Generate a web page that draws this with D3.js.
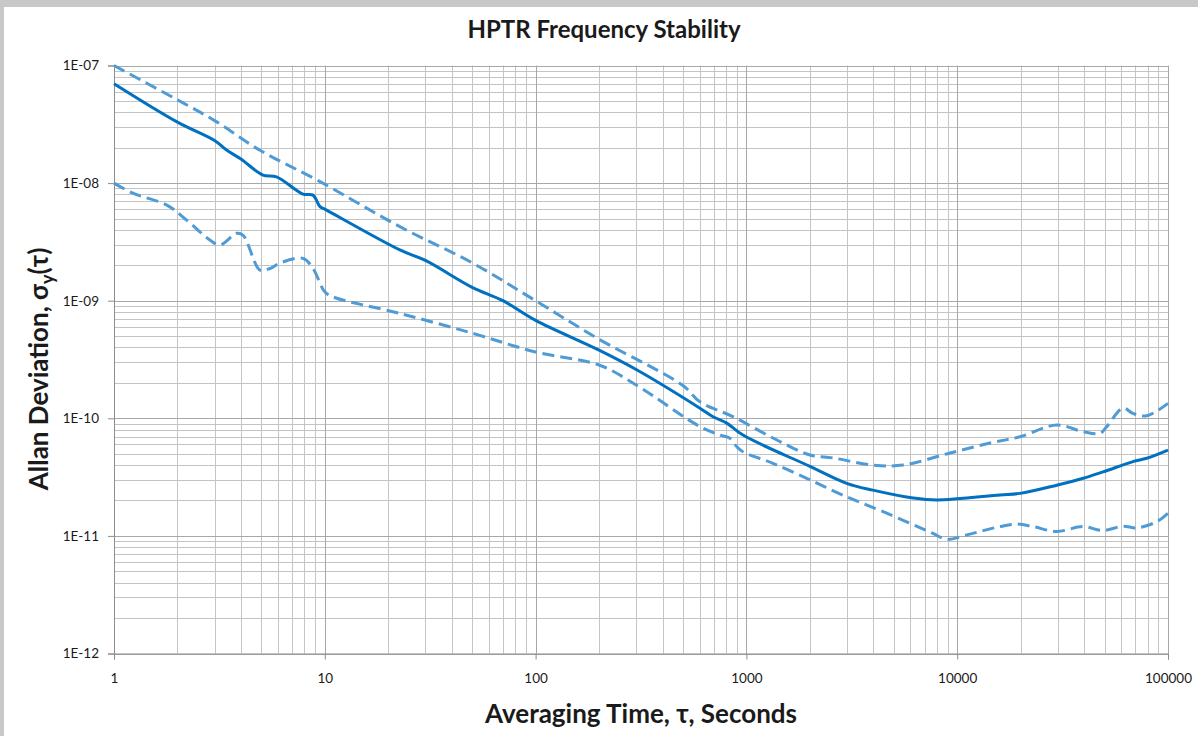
<!DOCTYPE html>
<html>
<head>
<meta charset="utf-8">
<script src="https://cdn.jsdelivr.net/npm/d3@7"></script>
<style>
	body { margin: 0; background: #fff; }
	svg text { font-family: Lato, "Open Sans", sans-serif; fill: #1a1a1a; }
</style>
</head>
<body>
<svg class="chart" width="1198" height="736"></svg>
<script>
// Data (tau in seconds, Allan deviation)
const tauMain = [1, 2, 3, 3.42, 4, 5.09, 5.9, 7.88, 8.79, 9.49, 10, 22.7, 30, 50, 70, 100, 200, 300, 602, 695, 807, 963, 2003, 2990, 3980, 6170, 8000, 15960, 19860, 29650, 39630, 49200, 68200, 79200, 100000]
const sigmaMain = [7.0e-8, 3.3e-8, 2.3e-8, 1.91e-8, 1.6e-8, 1.17e-8, 1.13e-8, 8.07e-9, 7.9e-9, 6.3e-9, 6.0e-9, 2.7e-9, 2.2e-9, 1.3e-9, 1.0e-9, 6.8e-10, 3.8e-10, 2.6e-10, 1.22e-10, 1.03e-10, 9.1e-11, 7.2e-11, 3.9e-11, 2.8e-11, 2.45e-11, 2.1e-11, 2.02e-11, 2.23e-11, 2.3e-11, 2.7e-11, 3.09e-11, 3.5e-11, 4.28e-11, 4.57e-11, 5.37e-11]

const tauUpper = [1, 2, 3, 4.93, 9.49, 22.7, 50, 100, 200, 500, 602, 867, 1336, 2003, 2576, 3980, 5530, 9250, 14300, 19860, 29650, 39500, 47550, 51200, 61200, 68200, 79200, 100000]
const sigmaUpper = [1.0e-7, 5.1e-8, 3.4e-8, 1.9e-8, 1.03e-8, 4.26e-9, 2.1e-9, 1.0e-9, 4.7e-10, 1.9e-10, 1.38e-10, 1.03e-10, 6.8e-11, 4.87e-11, 4.6e-11, 4.0e-11, 4.0e-11, 5.07e-11, 6.16e-11, 6.97e-11, 8.77e-11, 7.7e-11, 7.45e-11, 8.5e-11, 1.22e-10, 1.1e-10, 1.05e-10, 1.34e-10]

const tauLower = [1, 1.23, 1.78, 2.21, 2.85, 3.18, 3.82, 4.1, 4.93, 5.5, 6.13, 7.88, 8.79, 10, 10.9, 22.7, 50, 100, 200, 300, 602, 750, 835, 899, 963, 1336, 2003, 2990, 4630, 7680, 8920, 11100, 15960, 19150, 22900, 29650, 39500, 49200, 61200, 71000, 88400, 100000]
const sigmaLower = [1.0e-8, 8.2e-9, 6.5e-9, 4.85e-9, 3.28e-9, 2.98e-9, 3.74e-9, 3.6e-9, 1.82e-9, 1.88e-9, 2.09e-9, 2.29e-9, 1.88e-9, 1.19e-9, 1.08e-9, 7.8e-10, 5.3e-10, 3.66e-10, 2.84e-10, 1.92e-10, 8.5e-11, 7.2e-11, 6.76e-11, 5.75e-11, 5.2e-11, 4.14e-11, 2.99e-11, 2.15e-11, 1.56e-11, 1.05e-11, 9.35e-12, 1.02e-11, 1.2e-11, 1.26e-11, 1.2e-11, 1.09e-11, 1.2e-11, 1.11e-11, 1.21e-11, 1.17e-11, 1.32e-11, 1.56e-11]

const xTicks = [1, 10, 100, 1000, 10000, 100000]
const xTickLabels = ["1", "10", "100", "1000", "10000", "100000"]
const yTicks = [1e-12, 1e-11, 1e-10, 1e-9, 1e-8, 1e-7]
const yTickLabels = ["1E-12", "1E-11", "1E-10", "1E-09", "1E-08", "1E-07"]

const svg = d3.select("svg.chart")

// light grey frame at top and left edge
svg.append("rect").attr("x", 0).attr("y", 0).attr("width", 1198).attr("height", 7).attr("fill", "#c8c8c8")
svg.append("rect").attr("x", 0).attr("y", 0).attr("width", 4).attr("height", 736).attr("fill", "#c8c8c8")

const plotLeft = 114, plotRight = 1168, plotTop = 65.5, plotBottom = 653.5

const x = d3.scaleLog().domain([1, 1e5]).range([plotLeft, plotRight])
const y = d3.scaleLog().domain([1e-12, 1e-7]).range([plotBottom, plotTop])

// minor values: 2..9 inside every decade
const minorX = []
xTicks.slice(0, -1).forEach(d => { for (let k = 2; k <= 9; k++) minorX.push(d * k) })
const minorY = []
yTicks.slice(0, -1).forEach(d => { for (let k = 2; k <= 9; k++) minorY.push(d * k) })

const grid = svg.append("g")

grid.selectAll("line.minx").data(minorX).enter().append("line")
	.attr("x1", d => Math.round(x(d)) + 0.5).attr("x2", d => Math.round(x(d)) + 0.5)
	.attr("y1", plotTop).attr("y2", plotBottom)
	.attr("stroke", "#c4c4c4").attr("stroke-width", 1)

grid.selectAll("line.miny").data(minorY).enter().append("line")
	.attr("y1", d => Math.round(y(d)) + 0.5).attr("y2", d => Math.round(y(d)) + 0.5)
	.attr("x1", plotLeft).attr("x2", plotRight)
	.attr("stroke", "#c4c4c4").attr("stroke-width", 1)

grid.selectAll("line.majx").data(xTicks).enter().append("line")
	.attr("x1", d => Math.round(x(d)) + 0.5).attr("x2", d => Math.round(x(d)) + 0.5)
	.attr("y1", plotTop).attr("y2", plotBottom)
	.attr("stroke", "#a8a8a8").attr("stroke-width", 1)

grid.selectAll("line.majy").data(yTicks).enter().append("line")
	.attr("y1", d => Math.round(y(d)) + 0.5).attr("y2", d => Math.round(y(d)) + 0.5)
	.attr("x1", plotLeft).attr("x2", plotRight)
	.attr("stroke", "#a8a8a8").attr("stroke-width", 1)

// axes
const xAxis = d3.axisBottom(x).tickValues(xTicks).tickFormat((d, i) => xTickLabels[i]).tickSize(6).tickPadding(14)
const yAxis = d3.axisLeft(y).tickValues(yTicks).tickFormat((d, i) => yTickLabels[i]).tickSize(6).tickPadding(9)

const gx = svg.append("g").attr("transform", "translate(0," + plotBottom + ")").call(xAxis)
const gy = svg.append("g").attr("transform", "translate(" + plotLeft + ",0)").call(yAxis)

;[gx, gy].forEach(g => {
	g.select(".domain").attr("stroke", "#8c8c8c")
	g.selectAll(".tick line").attr("stroke", "#8c8c8c")
	g.selectAll(".tick text").style("font-family", "Lato, 'Open Sans', sans-serif").style("font-size", "13.5px").attr("fill", "#1a1a1a")
})

// series
const line = d3.line()
	.x(d => x(d[0]))
	.y(d => y(d[1]))
	.curve(d3.curveCatmullRom.alpha(0.5))

const plot = svg.append("g")

plot.append("path")
	.datum(d3.zip(tauUpper, sigmaUpper))
	.attr("d", line)
	.attr("fill", "none").attr("stroke", "#4f9bd5").attr("stroke-width", 3)
	.attr("stroke-dasharray", "12,6")

plot.append("path")
	.datum(d3.zip(tauLower, sigmaLower))
	.attr("d", line)
	.attr("fill", "none").attr("stroke", "#4f9bd5").attr("stroke-width", 3)
	.attr("stroke-dasharray", "12,6")

plot.append("path")
	.datum(d3.zip(tauMain, sigmaMain))
	.attr("d", line)
	.attr("fill", "none").attr("stroke", "#0070c0").attr("stroke-width", 3)

// titles
svg.append("text")
	.attr("x", 604).attr("y", 38)
	.attr("text-anchor", "middle")
	.style("font-size", "24px").style("font-weight", "bold")
	.text("HPTR Frequency Stability")

svg.append("text")
	.attr("x", 641).attr("y", 723)
	.attr("text-anchor", "middle")
	.style("font-size", "26px").style("font-weight", "bold")
	.text("Averaging Time, τ, Seconds")

const yLabel = svg.append("text")
	.attr("transform", "translate(48,369) rotate(-90)")
	.attr("text-anchor", "middle")
	.style("font-size", "26px").style("font-weight", "bold")
yLabel.append("tspan").text("Allan Deviation, σ")
yLabel.append("tspan").attr("dy", 6).style("font-size", "18px").text("y")
yLabel.append("tspan").attr("dy", -6).text("(τ)")
</script>
</body>
</html>
